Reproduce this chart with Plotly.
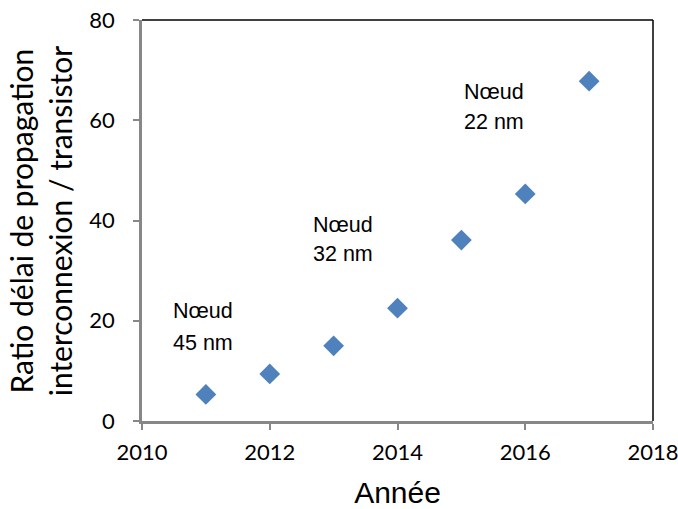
import plotly.graph_objects as go

years = [2011, 2012, 2013, 2014, 2015, 2016, 2017]
ratio = [5.3, 9.4, 15.0, 22.5, 36.1, 45.3, 67.8]

node_line1 = ["Nœud", "Nœud", "Nœud"]
node_line2 = ["45 nm", "32 nm", "22 nm"]
node_x = [2010.47, 2012.66, 2015.02]
node_y1 = [21.95, 39.2, 65.6]
node_y2 = [15.66, 33.4, 59.7]

x_ticks = [2010, 2012, 2014, 2016, 2018]
y_ticks = [0, 20, 40, 60, 80]

BLUE = "#4F81BD"
GRAY = "#878787"
TICKFONT = dict(family="Lato, Carlito, Calibri, sans-serif", size=22, color="#000000")

fig = go.Figure()
fig.add_trace(go.Scatter(
    x=years, y=ratio, mode="markers",
    marker=dict(symbol="diamond", size=16, color=BLUE, line=dict(color=BLUE, width=0)),
    showlegend=False,
))

annotations = []
for xs, t1, t2, y1, y2 in zip(node_x, node_line1, node_line2, node_y1, node_y2):
    for txt, yy in ((t1, y1), (t2, y2)):
        annotations.append(dict(
            x=xs, y=yy, xref="x", yref="y", text=txt, showarrow=False,
            xanchor="left", yanchor="middle", borderpad=0,
            font=dict(family="Liberation Sans, Arial, sans-serif", size=21.5, color="#000000"),
        ))

annotations.append(dict(
    x=-0.198, y=40, xref="paper", yref="y",
    text="Ratio délai de propagation<br>interconnexion / transistor",
    showarrow=False, textangle=-90, xanchor="center", yanchor="middle",
    font=dict(family="Lato, Carlito, Calibri, sans-serif", size=30, color="#000000"),
))

fig.update_layout(
    width=678, height=509,
    margin=dict(l=142, r=25, t=20, b=88, autoexpand=False),
    paper_bgcolor="white", plot_bgcolor="white",
    annotations=annotations,
    xaxis=dict(
        range=[2010, 2018], tickvals=x_ticks, ticktext=[str(v) for v in x_ticks],
        showgrid=False, zeroline=False, showline=True, linecolor=GRAY, linewidth=2.5,
        ticks="outside", ticklen=6, tickwidth=1.5, tickcolor=GRAY,
        tickfont=TICKFONT, ticklabelstandoff=4, automargin=False,
        ticklabeloverflow="allow",
        title=dict(text="Année", standoff=19,
                   font=dict(family="Liberation Sans, Arial, sans-serif", size=30, color="#000000")),
    ),
    yaxis=dict(
        range=[0, 80], tickvals=y_ticks, ticktext=[str(v) for v in y_ticks],
        showgrid=False, zeroline=False, showline=True, linecolor=GRAY, linewidth=2.5,
        ticks="outside", ticklen=6, tickwidth=1.5, tickcolor=GRAY,
        tickfont=TICKFONT, ticklabelstandoff=14, automargin=False,
        ticklabeloverflow="allow",
    ),
    shapes=[
        dict(type="line", xref="paper", yref="paper", x0=0, x1=1, y0=1, y1=1,
             line=dict(color="#000000", width=1.5)),
        dict(type="line", xref="paper", yref="paper", x0=1, x1=1, y0=0, y1=1,
             line=dict(color="#000000", width=1.5)),
    ],
)

fig.write_html("out.html", config={"displayModeBar": False},
               post_script="document.body.style.margin='0';")
